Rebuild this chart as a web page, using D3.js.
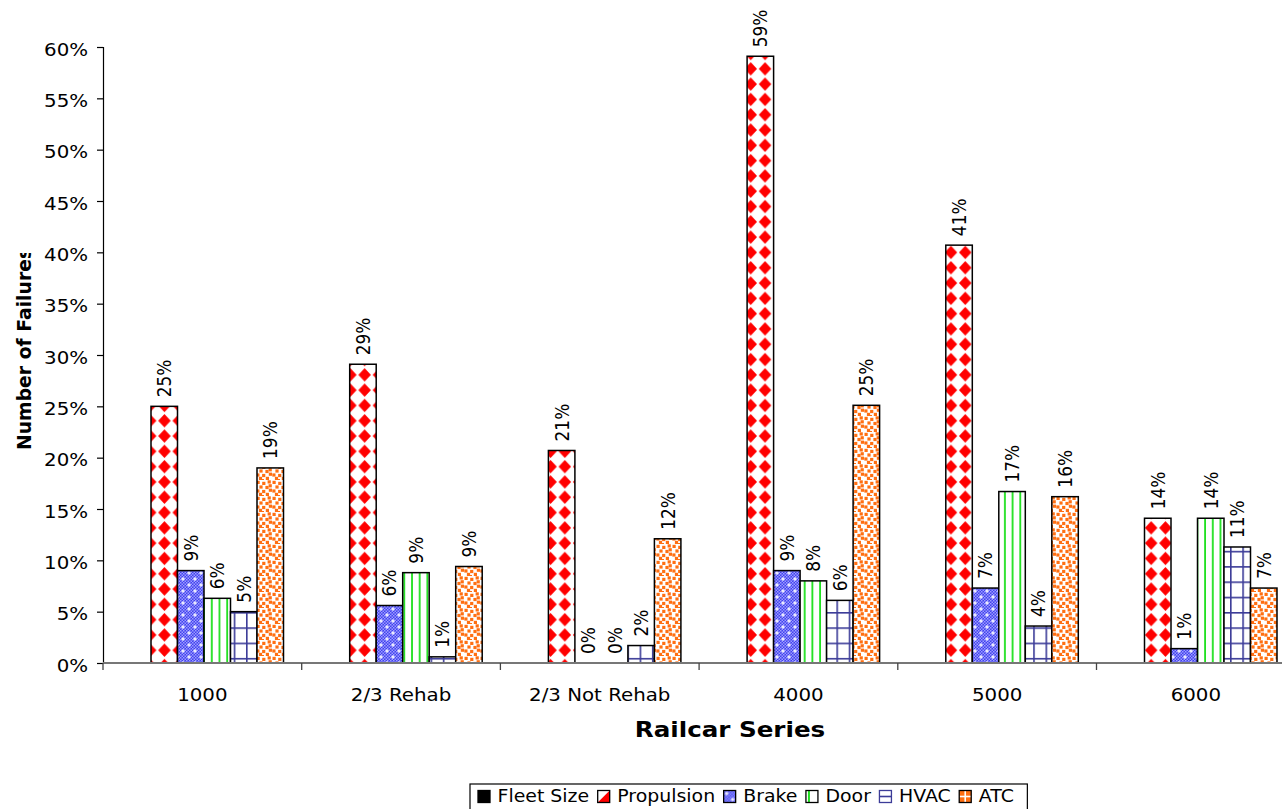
<!DOCTYPE html>
<html>
<head>
<meta charset="utf-8">
<script src="https://cdnjs.cloudflare.com/ajax/libs/d3/7.8.5/d3.min.js"></script>
<style>
  html, body { margin: 0; padding: 0; background: #ffffff; }
  svg { display: block; font-family: "DejaVu Sans", Verdana, sans-serif; }
</style>
</head>
<body>
<script>
// Failure share by railcar series and subsystem (percent of failures)
const categories = ["1000", "2/3 Rehab", "2/3 Not Rehab", "4000", "5000", "6000"];
const seriesNames = ["Fleet Size", "Propulsion", "Brake", "Door", "HVAC", "ATC"];
const fleetSize  = [null, null, null, null, null, null];
const propulsion = [25.0, 29.1, 20.7, 59.1, 40.7, 14.1];
const brake      = [9.0, 5.6, 0.0, 9.0, 7.3, 1.4];
const door       = [6.3, 8.8, 0.0, 8.0, 16.7, 14.1];
const hvac       = [5.0, 0.6, 1.7, 6.1, 3.6, 11.3];
const atc        = [19.0, 9.4, 12.1, 25.1, 16.2, 7.3];
const yTicks     = [0, 5, 10, 15, 20, 25, 30, 35, 40, 45, 50, 55, 60];

const seriesValues = [fleetSize, propulsion, brake, door, hvac, atc];

const W = 1282, H = 809;
const svg = d3.select("body").append("svg").attr("width", W).attr("height", H);
const defs = svg.append("defs");

// ---- fill patterns -------------------------------------------------------
function pattern(id, w, h) {
  return defs.append("pattern").attr("id", id)
    .attr("patternUnits", "userSpaceOnUse")
    .attr("width", w).attr("height", h);
}
// Propulsion: red diamonds on white
{
  const w = 14.3, h = 15.3;
  const p = pattern("pat-propulsion", w, h);
  p.append("rect").attr("width", w).attr("height", h).attr("fill", "#fff");
  p.append("path")
    .attr("d", `M${w/2},0.9 L${w-0.9},${h/2} L${w/2},${h-0.9} L0.9,${h/2} Z`)
    .attr("fill", "#ff0000");
}
// Brake: blue dither with white crosses
{
  const f = pattern("pat-brake-fine", 3, 3);
  f.append("rect").attr("width", 3).attr("height", 3).attr("fill", "#4242ee");
  f.append("rect").attr("width", 1.5).attr("height", 1.5).attr("fill", "#9c9cff");
  f.append("rect").attr("x", 1.5).attr("y", 1.5).attr("width", 1.5).attr("height", 1.5).attr("fill", "#9c9cff");
  const s = 12;
  const p = pattern("pat-brake", s, s);
  p.append("rect").attr("width", s).attr("height", s).attr("fill", "url(#pat-brake-fine)");
  [[3, 3], [9, 9]].forEach(([cx, cy]) => {
    p.append("rect").attr("x", cx - 1.8).attr("y", cy - 0.6).attr("width", 3.6).attr("height", 1.2).attr("fill", "#fff");
    p.append("rect").attr("x", cx - 0.6).attr("y", cy - 1.8).attr("width", 1.2).attr("height", 3.6).attr("fill", "#fff");
  });
}
// Door: green vertical stripes
{
  const w = 7.7, h = 10;
  const p = pattern("pat-door", w, h);
  p.append("rect").attr("width", w).attr("height", h).attr("fill", "#fff");
  p.append("rect").attr("x", 3).attr("width", 1.8).attr("height", h).attr("fill", "#1ee01e");
}
// HVAC: navy grid
{
  const w = 12.3, h = 15.3;
  const p = pattern("pat-hvac", w, h);
  p.append("rect").attr("width", w).attr("height", h).attr("fill", "#fff");
  p.append("rect").attr("width", 1.6).attr("height", h).attr("fill", "#3c3c98");
  p.append("rect").attr("width", w).attr("height", 1.6).attr("fill", "#3c3c98");
}
// ATC: orange confetti
{
  const s = 16, q = 3.2;
  const p = pattern("pat-atc", s, s);
  p.append("rect").attr("width", s).attr("height", s).attr("fill", "#fff");
  const dots = [[0.5, 0.8], [6.2, 1.8], [11.6, 0.3], [3.4, 5.4], [9.4, 5.9], [12.8, 8.6],
                [0.3, 9.4], [6.1, 9.9], [9.8, 12.8], [2.9, 12.8], [12.6, 4.2], [4.8, 15.0]];
  dots.forEach(([x, y]) => p.append("rect").attr("x", x).attr("y", y)
    .attr("width", q).attr("height", q).attr("fill", "#ff6f12"));
}
const fills = {
  "Fleet Size": "#000000",
  "Propulsion": "url(#pat-propulsion)",
  "Brake": "url(#pat-brake)",
  "Door": "url(#pat-door)",
  "HVAC": "url(#pat-hvac)",
  "ATC": "url(#pat-atc)"
};

// ---- scales -------------------------------------------------------------
const plotLeft = 103, groupW = 198.7, barW = 26.5, groupPad = 21.5;
const x0 = d3.scaleBand().domain(categories)
  .range([plotLeft, plotLeft + categories.length * groupW]).padding(0);
const x1 = d3.scaleBand().domain(seriesNames)
  .range([groupPad, groupPad + seriesNames.length * barW]).padding(0);
const y = d3.scaleLinear().domain([0, 60]).range([663, 47]);

const SX = 1.1; // horizontal stretch of the lettering

// ---- y axis -------------------------------------------------------------
const yAxis = svg.append("g")
  .attr("transform", `translate(${plotLeft},0)`)
  .call(d3.axisLeft(y).tickValues(yTicks).tickSize(6).tickPadding(7.6)
    .tickFormat(d => d + "%"));
yAxis.select(".domain").attr("stroke", "#000").attr("stroke-width", 1.2);
yAxis.selectAll(".tick line").attr("stroke", "#000").attr("stroke-width", 1.2);
yAxis.selectAll(".tick text")
  .attr("font-family", "DejaVu Sans, Verdana, sans-serif")
  .attr("font-size", 18).attr("fill", "#000")
  .attr("dy", "0.45em")
  .attr("transform", `scale(${SX},1)`);

// ---- bars ---------------------------------------------------------------
const rows = [];
categories.forEach((c, ci) => {
  seriesNames.forEach((s, si) => {
    const v = seriesValues[si][ci];
    if (v !== null) rows.push({ c, s, v });
  });
});

const plot = svg.append("g");
plot.selectAll("rect.bar").data(rows.filter(d => d.v > 0)).join("rect")
  .attr("class", "bar")
  .attr("x", d => x0(d.c) + x1(d.s))
  .attr("y", d => y(d.v))
  .attr("width", x1.bandwidth())
  .attr("height", d => y(0) - y(d.v))
  .attr("fill", d => fills[d.s])
  .attr("stroke", "#000").attr("stroke-width", 1.5);

// value labels, written upward above each bar
plot.selectAll("g.vlabel").data(rows).join("g")
  .attr("class", "vlabel")
  .attr("transform", d =>
    `translate(${x0(d.c) + x1(d.s) + x1.bandwidth() / 2},${y(d.v) - 9}) scale(1.12,1) rotate(-90)`)
  .append("text")
  .attr("text-anchor", "start")
  .attr("dy", "0.36em")
  .attr("font-size", 17)
  .attr("fill", "#000")
  .text(d => Math.round(d.v) + "%");

// ---- x axis -------------------------------------------------------------
const xEnd = plotLeft + categories.length * groupW;
svg.append("line")
  .attr("x1", plotLeft).attr("x2", xEnd).attr("y1", y(0)).attr("y2", y(0))
  .attr("stroke", "#777").attr("stroke-width", 2);
const bounds = categories.map(c => x0(c)).concat([xEnd]);
svg.selectAll("line.xtick").data(bounds).join("line")
  .attr("class", "xtick")
  .attr("x1", d => d).attr("x2", d => d)
  .attr("y1", y(0)).attr("y2", y(0) + 7)
  .attr("stroke", "#444").attr("stroke-width", 1.3);
svg.selectAll("g.xlabel").data(categories).join("g")
  .attr("class", "xlabel")
  .attr("transform", d => `translate(${x0(d) + x0.bandwidth() / 2},701) scale(${SX},1)`)
  .append("text")
  .attr("text-anchor", "middle")
  .attr("font-size", 18).attr("fill", "#000")
  .text(d => d);

// ---- axis titles --------------------------------------------------------
svg.append("g")
  .attr("transform", "translate(730,737) scale(1.2,1)")
  .append("text")
  .attr("text-anchor", "middle")
  .attr("font-size", 20.5).attr("font-weight", "bold").attr("fill", "#000")
  .text("Railcar Series");

defs.append("clipPath").attr("id", "ytitle-clip")
  .append("rect").attr("x", 0).attr("y", 253).attr("width", 60).attr("height", 400);
svg.append("g").attr("clip-path", "url(#ytitle-clip)")
  .append("g")
  .attr("transform", "translate(31,450) scale(1.0,1) rotate(-90)")
  .append("text")
  .attr("text-anchor", "start")
  .attr("font-size", 18.8).attr("font-weight", "bold").attr("fill", "#000")
  .text("Number of Failures");

// ---- legend -------------------------------------------------------------
const legend = svg.append("g");
const legendBox = legend.append("rect")
  .attr("y", 784).attr("height", 40)
  .attr("fill", "#fff").attr("stroke", "#000").attr("stroke-width", 1.2);

// small key glyphs, one per series
function keyGlyph(g, s, x, yTop, size) {
  const k = g.append("g").attr("transform", `translate(${x},${yTop})`);
  if (s === "Propulsion") {
    k.append("rect").attr("width", size).attr("height", size).attr("fill", "#fff");
    k.append("path").attr("d", `M${size},0 L${size},${size} L0,${size} Z`).attr("fill", "#ff0000");
  } else if (s === "HVAC") {
    k.append("rect").attr("width", size).attr("height", size).attr("fill", "#fff");
    k.append("rect").attr("y", size / 2 - 0.8).attr("width", size).attr("height", 1.6).attr("fill", "#3c3c98");
  } else if (s === "Door") {
    k.append("rect").attr("width", size).attr("height", size).attr("fill", "#fff");
    k.append("rect").attr("x", 2).attr("width", 2).attr("height", size).attr("fill", "#1ee01e");
  } else if (s === "ATC") {
    k.append("rect").attr("width", size).attr("height", size).attr("fill", "#ff6f12");
    k.append("rect").attr("x", size / 2 - 0.8).attr("width", 1.6).attr("height", size).attr("fill", "#fff");
    k.append("rect").attr("y", size / 2 - 0.8).attr("width", size).attr("height", 1.6).attr("fill", "#fff");
  } else {
    k.append("rect").attr("width", size).attr("height", size).attr("fill", fills[s]);
  }
  k.append("rect").attr("width", size).attr("height", size)
    .attr("fill", "none").attr("stroke", s === "HVAC" ? "#3c3c98" : "#000").attr("stroke-width", 1.3);
}

let lx = 478;
seriesNames.forEach(s => {
  keyGlyph(legend, s, lx, 790.5, 12);
  lx += 19.5;
  const g = legend.append("g").attr("transform", `translate(${lx},802) scale(${SX},1)`);
  const t = g.append("text").attr("font-size", 17.2).attr("fill", "#000").text(s);
  lx += t.node().getComputedTextLength() * SX + 8.5;
});
legendBox.attr("x", 470).attr("width", lx - 470 + 5);
</script>
</body>
</html>
